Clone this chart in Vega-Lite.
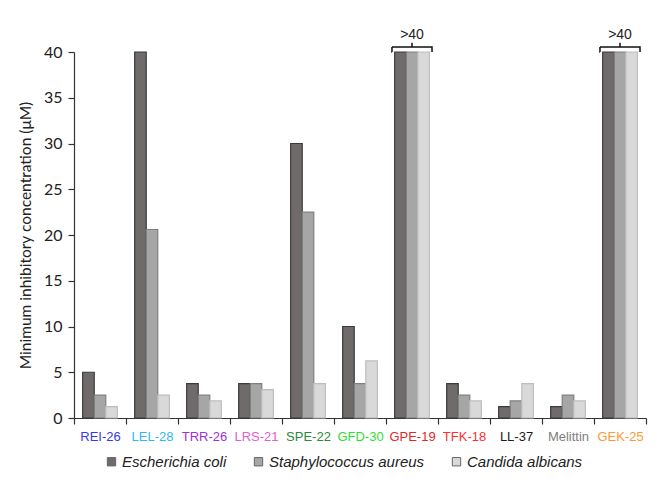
{
  "$schema": "https://vega.github.io/schema/vega-lite/v6.json",
  "width": 572,
  "height": 366,
  "autosize": {"type": "none"},
  "padding": {"left": 74, "top": 52, "right": 20, "bottom": 72},
  "background": "white",
  "config": {
    "view": {"stroke": null},
    "axis": {"grid": false, "domainColor": "#333333", "tickColor": "#333333", "domainWidth": 1.2, "tickWidth": 1.2}
  },
  "datasets": {
    "mic": [
      {"peptide": "REI-26", "species": "Escherichia coli", "mic": 5},
      {"peptide": "REI-26", "species": "Staphylococcus aureus", "mic": 2.5},
      {"peptide": "REI-26", "species": "Candida albicans", "mic": 1.25},
      {"peptide": "LEL-28", "species": "Escherichia coli", "mic": 40},
      {"peptide": "LEL-28", "species": "Staphylococcus aureus", "mic": 20.6},
      {"peptide": "LEL-28", "species": "Candida albicans", "mic": 2.5},
      {"peptide": "TRR-26", "species": "Escherichia coli", "mic": 3.75},
      {"peptide": "TRR-26", "species": "Staphylococcus aureus", "mic": 2.5},
      {"peptide": "TRR-26", "species": "Candida albicans", "mic": 1.875},
      {"peptide": "LRS-21", "species": "Escherichia coli", "mic": 3.75},
      {"peptide": "LRS-21", "species": "Staphylococcus aureus", "mic": 3.75},
      {"peptide": "LRS-21", "species": "Candida albicans", "mic": 3.1},
      {"peptide": "SPE-22", "species": "Escherichia coli", "mic": 30},
      {"peptide": "SPE-22", "species": "Staphylococcus aureus", "mic": 22.5},
      {"peptide": "SPE-22", "species": "Candida albicans", "mic": 3.75},
      {"peptide": "GFD-30", "species": "Escherichia coli", "mic": 10},
      {"peptide": "GFD-30", "species": "Staphylococcus aureus", "mic": 3.75},
      {"peptide": "GFD-30", "species": "Candida albicans", "mic": 6.25},
      {"peptide": "GPE-19", "species": "Escherichia coli", "mic": 40},
      {"peptide": "GPE-19", "species": "Staphylococcus aureus", "mic": 40},
      {"peptide": "GPE-19", "species": "Candida albicans", "mic": 40},
      {"peptide": "TFK-18", "species": "Escherichia coli", "mic": 3.75},
      {"peptide": "TFK-18", "species": "Staphylococcus aureus", "mic": 2.5},
      {"peptide": "TFK-18", "species": "Candida albicans", "mic": 1.875},
      {"peptide": "LL-37", "species": "Escherichia coli", "mic": 1.25},
      {"peptide": "LL-37", "species": "Staphylococcus aureus", "mic": 1.875},
      {"peptide": "LL-37", "species": "Candida albicans", "mic": 3.75},
      {"peptide": "Melittin", "species": "Escherichia coli", "mic": 1.25},
      {"peptide": "Melittin", "species": "Staphylococcus aureus", "mic": 2.5},
      {"peptide": "Melittin", "species": "Candida albicans", "mic": 1.875},
      {"peptide": "GEK-25", "species": "Escherichia coli", "mic": 40},
      {"peptide": "GEK-25", "species": "Staphylococcus aureus", "mic": 40},
      {"peptide": "GEK-25", "species": "Candida albicans", "mic": 40}
    ],
    "brackets": [
      {"peptide": "GPE-19", "low": 40, "bar": 40.55, "top": 41.0, "labelpos": 41.9, "label": ">40"},
      {"peptide": "GEK-25", "low": 40, "bar": 40.55, "top": 41.0, "labelpos": 41.9, "label": ">40"}
    ]
  },
  "layer": [
    {
      "data": {"name": "mic"},
      "mark": {"type": "bar", "strokeWidth": 1.2},
      "encoding": {
        "x": {
          "field": "peptide", "type": "nominal",
          "sort": ["REI-26", "LEL-28", "TRR-26", "LRS-21", "SPE-22", "GFD-30", "GPE-19", "TFK-18", "LL-37", "Melittin", "GEK-25"],
          "scale": {"paddingInner": 0, "paddingOuter": 0},
          "axis": {
            "title": null, "labelAngle": 0, "tickBand": "extent", "tickSize": 6,
            "labelPadding": 6, "labelFont": "Liberation Sans", "labelFontSize": 13,
            "labelColor": {"expr": "datum.value == 'REI-26' ? '#3838f0' : datum.value == 'LEL-28' ? '#30b8f0' : datum.value == 'TRR-26' ? '#a030d8' : datum.value == 'LRS-21' ? '#e060d0' : datum.value == 'SPE-22' ? '#2a8a3a' : datum.value == 'GFD-30' ? '#30e030' : datum.value == 'GPE-19' ? '#e02828' : datum.value == 'TFK-18' ? '#ff3030' : datum.value == 'LL-37' ? '#1a1a1a' : datum.value == 'Melittin' ? '#808080' : '#ff9a33'"}
          }
        },
        "xOffset": {
          "field": "species", "type": "nominal",
          "sort": ["Escherichia coli", "Staphylococcus aureus", "Candida albicans"],
          "scale": {"paddingInner": 0, "paddingOuter": 0.75}
        },
        "y": {
          "field": "mic", "type": "quantitative",
          "scale": {"domain": [0, 40], "nice": false},
          "axis": {
            "title": "Minimum inhibitory concentration (μM)",
            "values": [0, 5, 10, 15, 20, 25, 30, 35, 40],
            "tickSize": 6, "labelPadding": 6,
            "labelFont": "Lato", "labelFontSize": 16, "labelColor": "#222222",
            "titleFont": "Lato", "titleFontSize": 15.5, "titleFontWeight": "normal", "titleColor": "#222222", "titlePadding": 10
          }
        },
        "fill": {
          "field": "species", "type": "nominal",
          "sort": ["Escherichia coli", "Staphylococcus aureus", "Candida albicans"],
          "scale": {"range": ["#6f6b6b", "#a6a6a6", "#d9d9d9"]},
          "legend": {
            "title": null, "orient": "none", "direction": "horizontal",
            "legendX": 30, "legendY": 402,
            "symbolType": "square", "symbolSize": 70, "symbolStrokeWidth": 1,
            "symbolStrokeColor": "#666666",
            "labelFont": "Liberation Sans", "labelFontSize": 15, "labelFontStyle": "italic", "labelColor": "#222222",
            "columnPadding": 24, "labelOffset": 3, "labelLimit": 300
          }
        },
        "stroke": {
          "field": "species", "type": "nominal",
          "sort": ["Escherichia coli", "Staphylococcus aureus", "Candida albicans"],
          "scale": {"range": ["#3c3a3a", "#7f7f7f", "#bdbdbd"]},
          "legend": null
        }
      }
    },
    {
      "data": {"name": "brackets"},
      "mark": {"type": "bar", "fill": null, "fillOpacity": 0, "stroke": "#111111", "strokeWidth": 1.5, "width": {"band": 0.77}, "strokeDash": [45, 40, 5]},
      "encoding": {
        "x": {"field": "peptide", "type": "nominal", "sort": ["REI-26", "LEL-28", "TRR-26", "LRS-21", "SPE-22", "GFD-30", "GPE-19", "TFK-18", "LL-37", "Melittin", "GEK-25"]},
        "y": {"field": "bar", "type": "quantitative"},
        "y2": {"field": "low"}
      }
    },
    {
      "data": {"name": "brackets"},
      "mark": {"type": "rule", "stroke": "#111111", "strokeWidth": 1.5},
      "encoding": {
        "x": {"field": "peptide", "type": "nominal", "sort": ["REI-26", "LEL-28", "TRR-26", "LRS-21", "SPE-22", "GFD-30", "GPE-19", "TFK-18", "LL-37", "Melittin", "GEK-25"]},
        "y": {"field": "bar", "type": "quantitative"},
        "y2": {"field": "top"}
      }
    },
    {
      "data": {"name": "brackets"},
      "mark": {"type": "text", "font": "Liberation Sans", "fontSize": 14, "color": "#222222", "baseline": "middle"},
      "encoding": {
        "x": {"field": "peptide", "type": "nominal", "sort": ["REI-26", "LEL-28", "TRR-26", "LRS-21", "SPE-22", "GFD-30", "GPE-19", "TFK-18", "LL-37", "Melittin", "GEK-25"]},
        "y": {"field": "labelpos", "type": "quantitative"},
        "text": {"field": "label"}
      }
    }
  ]
}
